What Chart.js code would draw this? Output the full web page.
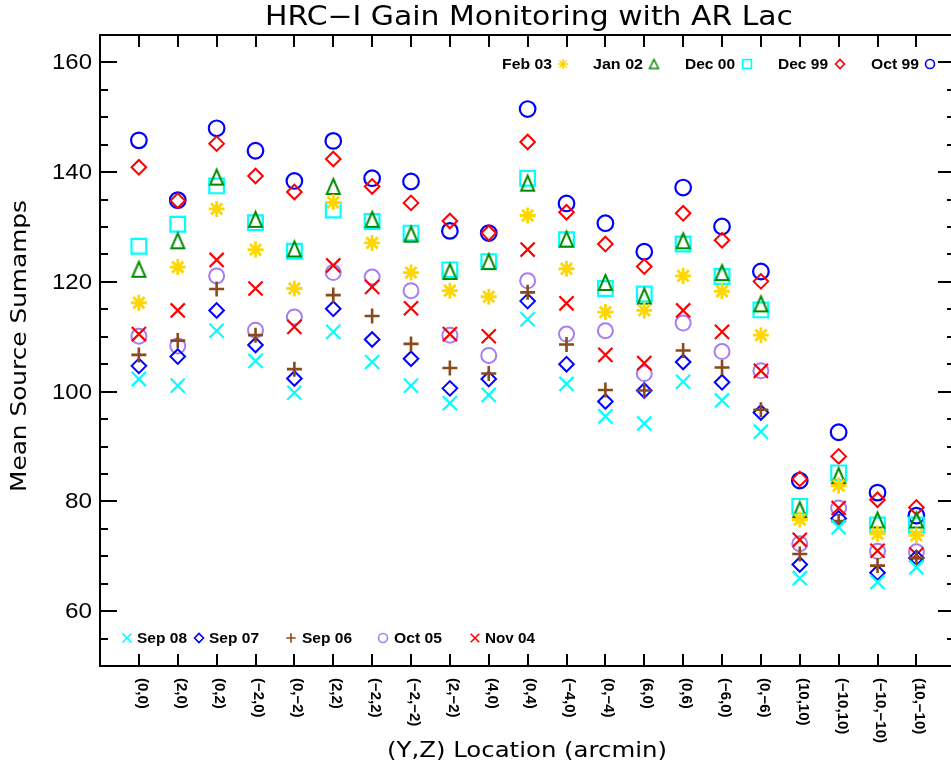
<!DOCTYPE html>
<html>
<head>
<meta charset="utf-8">
<title>HRC-I Gain Monitoring with AR Lac</title>
<script src="https://cdn.jsdelivr.net/npm/chart.js@4/dist/chart.umd.min.js"></script>
<style>
  html, body { margin: 0; padding: 0; background: #fff; overflow: hidden; }
  #c { display: block; }
</style>
</head>
<body>
<canvas id="c" width="951" height="770" style="width:951px;height:770px"></canvas>
<script>
// (Y,Z) source positions on the detector, in arcmin
const locations = ['(0,0)', '(2,0)', '(0,2)', '(\u22122,0)', '(0,\u22122)', '(2,2)', '(\u22122,2)',
  '(\u22122,\u22122)', '(2,\u22122)', '(4,0)', '(0,4)', '(\u22124,0)', '(0,\u22124)', '(6,0)', '(0,6)',
  '(\u22126,0)', '(0,\u22126)', '(10,10)', '(\u221210,10)', '(\u221210,\u221210)', '(10,\u221210)'];

// Mean source sumamps per observing epoch
const oct99 = [145.8, 134.9, 148.0, 143.9, 138.4, 145.7, 138.9, 138.3, 129.3, 128.9, 151.5, 134.3, 130.7, 125.5, 137.2, 130.1, 121.9, 83.8, 92.6, 81.6, 77.4];
const dec99 = [140.9, 134.8, 145.2, 139.3, 136.4, 142.4, 137.4, 134.4, 131.1, 128.9, 145.5, 132.7, 126.9, 122.8, 132.5, 127.6, 120.1, 84.1, 88.2, 80.3, 78.9];
const dec00 = [126.5, 130.5, 137.5, 130.8, 125.6, 133.1, 131.0, 128.9, 122.2, 123.7, 138.9, 127.7, 118.8, 117.8, 126.9, 121.0, 114.9, 79.1, 85.2, 75.7, 75.7];
const jan02 = [122.3, 127.5, 139.1, 131.4, 126.0, 137.4, 131.4, 128.7, 121.9, 123.7, 138.0, 127.8, 119.9, 117.4, 127.5, 121.7, 116.0, 78.5, 84.7, 76.6, 76.6];
const feb03 = [116.2, 122.7, 133.3, 125.9, 118.8, 134.5, 127.1, 121.7, 118.4, 117.3, 132.1, 122.4, 114.5, 114.8, 121.1, 118.3, 110.3, 76.7, 82.9, 74.1, 73.8];
const nov04 = [110.5, 114.8, 124.0, 118.8, 111.8, 123.0, 119.1, 115.2, 110.5, 110.1, 125.9, 116.1, 106.7, 105.2, 114.8, 110.9, 103.8, 73.0, 78.8, 71.0, 70.3];
const oct05 = [110.1, 108.3, 121.1, 111.2, 113.6, 121.7, 120.9, 118.4, 110.3, 106.6, 120.2, 110.5, 111.1, 103.3, 112.5, 107.3, 103.8, 72.3, 78.8, 70.9, 70.8];
const sep06 = [106.7, 109.3, 118.7, 110.3, 104.1, 117.6, 113.8, 108.7, 104.3, 103.3, 118.1, 108.6, 100.3, 100.2, 107.5, 104.4, 96.7, 70.4, 76.4, 68.3, 69.7];
const sep07 = [104.7, 106.4, 114.8, 108.5, 102.4, 115.1, 109.5, 106.0, 100.6, 102.3, 116.5, 105.0, 98.2, 100.2, 105.4, 101.7, 96.2, 68.5, 76.9, 67.0, 69.7];
const sep08 = [102.3, 101.1, 111.1, 105.6, 99.8, 110.9, 105.4, 101.1, 97.9, 99.4, 113.2, 101.4, 95.5, 94.2, 101.8, 98.4, 92.7, 66.0, 75.3, 65.3, 68.0];

const yTickLabels = [60, 80, 100, 120, 140, 160];

// IDL-style open triangle (taller than equilateral), drawn into a small canvas
function makeTriangle(w, h, lw, color) {
  const pad = Math.ceil(lw) + 1;
  const cv = document.createElement('canvas');
  cv.width = w + 2 * pad; cv.height = h + 2 * pad;
  const g = cv.getContext('2d');
  g.strokeStyle = color; g.lineWidth = lw; g.lineJoin = 'miter';
  g.beginPath();
  g.moveTo(pad + w / 2, pad);
  g.lineTo(pad + w, pad + h);
  g.lineTo(pad, pad + h);
  g.closePath();
  g.stroke();
  return cv;
}

const GREEN = '#008a00';
const triBig = makeTriangle(13, 15, 2, GREEN);
const triSmall = makeTriangle(9, 9, 1.5, GREEN);

// epoch styling; later entries are drawn on top
const series = [
  { label: 'Oct 99', data: oct99, color: '#0000ff', style: 'circle',   r: 7.8, lw: 2.2, legendR: 4.5 },
  { label: 'Dec 99', data: dec99, color: '#ff0000', style: 'rectRot',  r: 7.3, lw: 2,   legendR: 4.5 },
  { label: 'Dec 00', data: dec00, color: '#00ffff', style: 'rect',     r: 10.4, lw: 2.2, legendR: 6.2 },
  { label: 'Jan 02', data: jan02, color: GREEN,     style: triBig,     r: 8,   lw: 2,   legendStyle: triSmall },
  { label: 'Feb 03', data: feb03, color: '#ffd700', style: 'star',     r: 8,   lw: 2.8, legendR: 5 },
  { label: 'Oct 05', data: oct05, color: '#a77cf4', style: 'circle',   r: 7.5, lw: 2,   legendR: 4.5 },
  { label: 'Nov 04', data: nov04, color: '#ff0000', style: 'crossRot', r: 10,  lw: 2.2, legendR: 6 },
  { label: 'Sep 07', data: sep07, color: '#0000ff', style: 'rectRot',  r: 7.3, lw: 2,   legendR: 4.5 },
  { label: 'Sep 06', data: sep06, color: '#8b4a1a', style: 'cross',    r: 7.5, lw: 2.6, legendR: 4.7 },
  { label: 'Sep 08', data: sep08, color: '#00ffff', style: 'crossRot', r: 10,  lw: 2.2, legendR: 6.4 }
];

const datasets = series.map((s, k) => ({
  label: s.label,
  data: s.data.map((v, i) => ({ x: i, y: v })),
  showLine: false,
  pointStyle: s.style,
  pointRadius: s.r,
  pointHoverRadius: s.r,
  pointBorderWidth: s.lw,
  pointBorderColor: s.color,
  pointBackgroundColor: 'rgba(0,0,0,0)',
  borderColor: s.color,
  backgroundColor: 'rgba(0,0,0,0)',
  order: series.length - k
}));

function byLabel(l) { return series.find(s => s.label === l); }

// legend rows drawn inside the plot frame
const legendTop = [
  { label: 'Feb 03', textX: 502, symX: 563 },
  { label: 'Jan 02', textX: 593, symX: 654 },
  { label: 'Dec 00', textX: 685, symX: 747 },
  { label: 'Dec 99', textX: 778, symX: 840 },
  { label: 'Oct 99', textX: 871, symX: 930 }
];
const legendBottom = [
  { label: 'Sep 08', symX: 127, textX: 137 },
  { label: 'Sep 07', symX: 199, textX: 209 },
  { label: 'Sep 06', symX: 291, textX: 302 },
  { label: 'Oct 05', symX: 383, textX: 394 },
  { label: 'Nov 04', symX: 475, textX: 485 }
];

// the plot frame spans x = -1 .. 21; its right edge falls just past the canvas
const X_FRAME_MIN = -1, X_FRAME_MAX = 21;

function fitText(ctx, text, x, y, width, font, align) {
  ctx.font = font;
  const w = ctx.measureText(text).width;
  ctx.save();
  ctx.translate(x, y);
  ctx.scale(width / w, 1);
  ctx.textAlign = align || 'left';
  ctx.fillText(text, 0, 0);
  ctx.restore();
}

function seg(ctx, x1, y1, x2, y2) {
  ctx.beginPath(); ctx.moveTo(x1, y1); ctx.lineTo(x2, y2); ctx.stroke();
}

const framePlugin = {
  id: 'framePlugin',
  afterDraw(chart) {
    const { ctx, chartArea: a, scales } = chart;
    const xs = scales.x, ys = scales.y;
    const left = Math.round(xs.getPixelForValue(X_FRAME_MIN));
    const right = Math.round(xs.getPixelForValue(X_FRAME_MAX));
    ctx.save();
    ctx.strokeStyle = '#000';
    ctx.fillStyle = '#000';
    ctx.lineWidth = 2;
    ctx.strokeRect(left, a.top, right - left, a.bottom - a.top);

    // y axis ticks: major every 20, minor every 5, on both sides
    for (let v = ys.min + 5; v < ys.max; v += 5) {
      const py = Math.round(ys.getPixelForValue(v));
      const len = v % 20 === 0 ? 17 : 8;
      seg(ctx, left, py, left + len, py);
      seg(ctx, right, py, right - len, py);
    }
    // x axis ticks at each location, top and bottom
    locations.forEach((_, i) => {
      const px = Math.round(xs.getPixelForValue(i));
      seg(ctx, px, a.bottom, px, a.bottom - 12);
      seg(ctx, px, a.top, px, a.top + 12);
    });

    // y tick labels
    ctx.textBaseline = 'middle';
    yTickLabels.forEach(v => {
      const py = ys.getPixelForValue(v);
      fitText(ctx, String(v), 92, py + 1, v >= 100 ? 40 : 27, '22px "Liberation Sans"', 'right');
    });

    // x tick labels, rotated to read downward
    ctx.font = 'bold 15px "Liberation Sans"';
    locations.forEach((lab, i) => {
      const px = xs.getPixelForValue(i);
      ctx.save();
      ctx.translate(px + 3, a.bottom + 12);
      ctx.rotate(Math.PI / 2);
      ctx.textAlign = 'left';
      ctx.textBaseline = 'middle';
      ctx.fillText(lab, 0, 0);
      ctx.restore();
    });

    // titles
    ctx.textBaseline = 'alphabetic';
    fitText(ctx, 'HRC\u2212I Gain Monitoring with AR Lac', 529, 25, 528, '26px "DejaVu Sans"', 'center');
    fitText(ctx, '(Y,Z) Location (arcmin)', 527, 757, 280, '22px "DejaVu Sans"', 'center');
    ctx.save();
    ctx.translate(26, 346);
    ctx.rotate(-Math.PI / 2);
    fitText(ctx, 'Mean Source Sumamps', 0, 0, 292, '21px "DejaVu Sans"', 'center');
    ctx.restore();

    // legends
    const drawItem = (it, yy) => {
      const s = byLabel(it.label);
      ctx.fillStyle = '#000';
      ctx.textBaseline = 'middle';
      fitText(ctx, s.label, it.textX, yy + 1, s.label.startsWith('Oct') ? 48 : 50, 'bold 14px "Liberation Sans"', 'left');
      ctx.save();
      ctx.strokeStyle = s.color;
      ctx.fillStyle = 'rgba(0,0,0,0)';
      ctx.lineWidth = 1.6;
      Chart.helpers.drawPoint(ctx, {
        pointStyle: s.legendStyle || s.style,
        radius: s.legendR || 5,
        rotation: 0,
        borderWidth: 1.6
      }, it.symX, yy);
      ctx.restore();
    };
    legendTop.forEach(it => drawItem(it, 64));
    legendBottom.forEach(it => drawItem(it, 638));
    ctx.restore();
  }
};

new Chart(document.getElementById('c'), {
  type: 'scatter',
  data: { datasets },
  options: {
    responsive: false,
    animation: false,
    events: [],
    layout: { autoPadding: false, padding: { left: 100, right: 0, top: 35, bottom: 104 } },
    plugins: { legend: { display: false }, tooltip: { enabled: false }, title: { display: false } },
    scales: {
      // visible range stops at the canvas edge (x ~ 20.89)
      x: { type: 'linear', min: -1, max: 20.89, display: false },
      y: { type: 'linear', min: 50, max: 165, display: false }
    }
  },
  plugins: [framePlugin]
});
</script>
</body>
</html>
